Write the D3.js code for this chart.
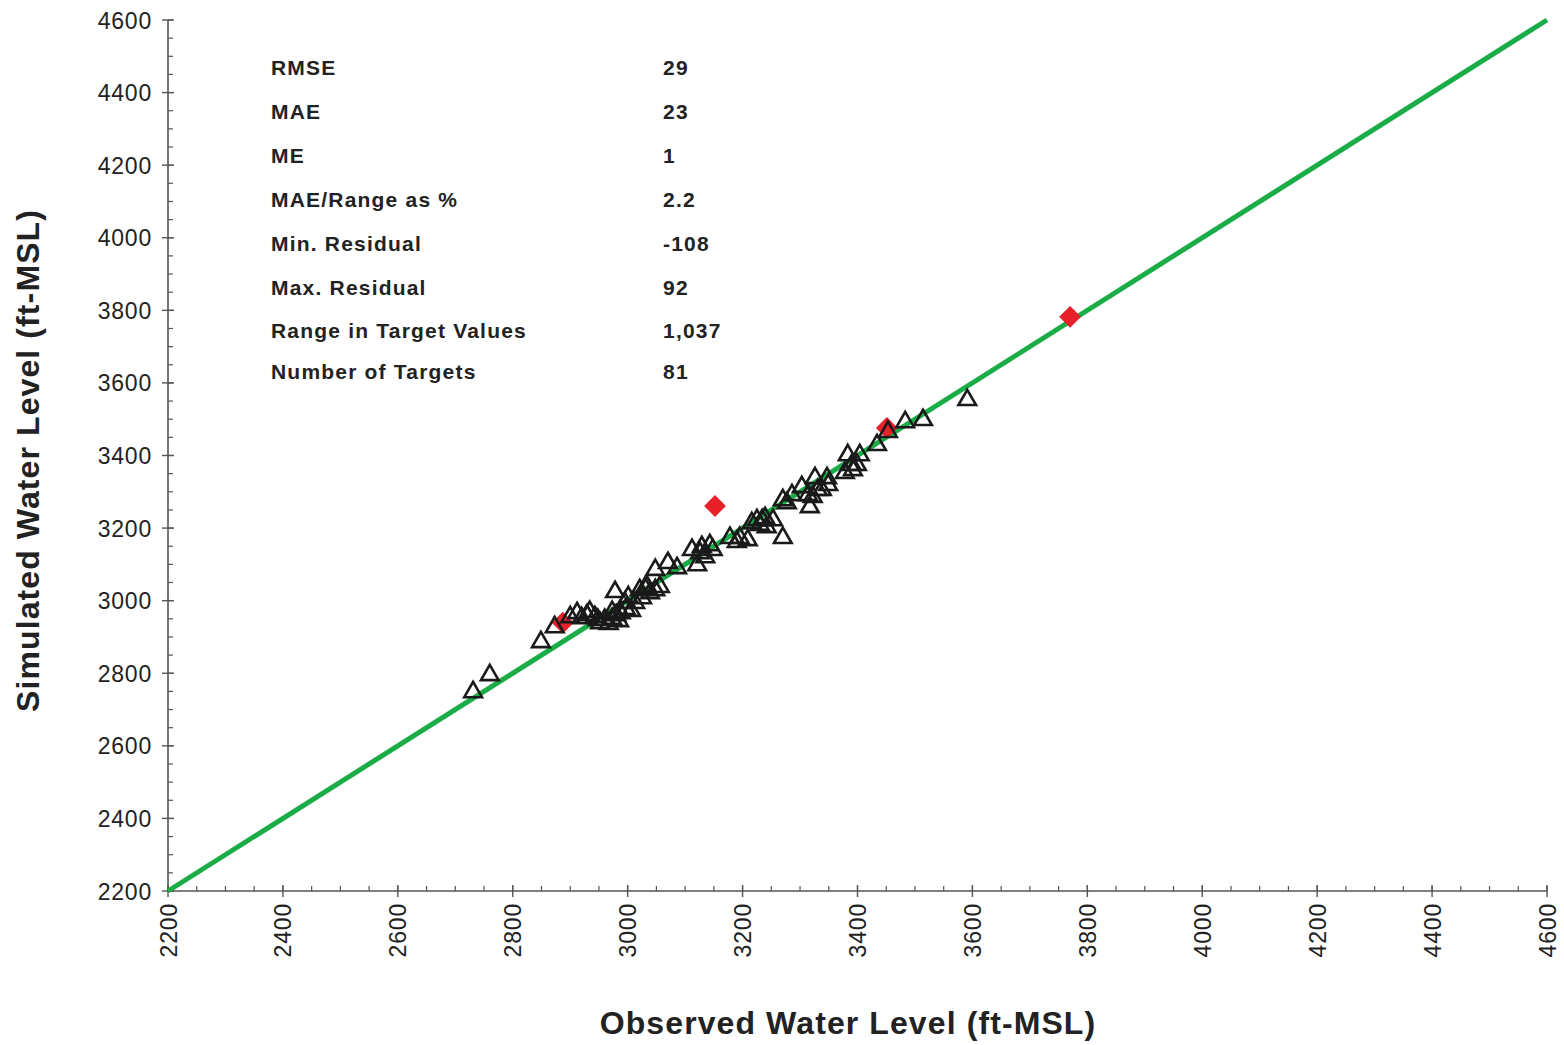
<!DOCTYPE html>
<html>
<head>
<meta charset="utf-8">
<script src="https://cdn.jsdelivr.net/npm/d3@7"></script>
<style>
  body { margin: 0; background: #fff; }
  svg { display: block; font-family: "Liberation Sans", Arial, sans-serif; }
</style>
</head>
<body>
<svg id="chart" width="1564" height="1045"></svg>
<script>
// Observed vs simulated water levels (ft-MSL), triangles = calibration targets
let observed = [2731, 2760, 2849, 2873, 2912, 2920, 2934, 2943, 2952, 2960, 2967, 2973, 2980, 2978,
    2988, 2997, 3001, 3006, 3013, 3021, 3030, 3034, 3039, 3048, 3056, 3048, 3070, 3086, 3112, 3121,
    3129, 3135, 3143, 3148, 3178, 3190, 3195, 3209, 3216, 3225, 3230, 3239, 3242, 3253, 3270, 3270,
    3277, 3286, 3303, 3317, 3322, 3326, 3338, 3349, 3347, 3378, 3383, 3392, 3399, 3404, 3434, 3453,
    3483, 3514, 3591, 2948, 2985, 2995, 3025, 2929, 3126, 3234, 3314, 3331, 3390, 2973, 2900];
let simulated = [2748, 2795, 2886, 2927, 2966, 2952, 2969, 2955, 2938, 2947, 2936, 2950, 2960, 3024,
    2966, 2977, 3010, 2972, 2994, 3029, 3035, 3038, 3021, 3029, 3038, 3085, 3104, 3090, 3140, 3098,
    3148, 3120, 3153, 3140, 3173, 3162, 3173, 3167, 3214, 3222, 3209, 3228, 3203, 3222, 3173, 3277,
    3269, 3291, 3313, 3258, 3286, 3338, 3305, 3319, 3338, 3352, 3401, 3360, 3374, 3401, 3429, 3465,
    3492, 3498, 3553, 2947, 2944, 2994, 3007, 2960, 3131, 3222, 3291, 3305, 3374, 2969, 2955];

// Highlighted targets (red diamonds)
let flagObserved = [2887, 3152, 3451, 3770];
let flagSimulated = [2939, 3261, 3476, 3782];

// Calibration statistics
let statLabels = ["RMSE", "MAE", "ME", "MAE/Range as %", "Min. Residual", "Max. Residual",
    "Range in Target Values", "Number of Targets"];
let statValues = ["29", "23", "1", "2.2", "-108", "92", "1,037", "81"];

let axisDomain = [2200, 4600];
let majorTicks = d3.range(2200, 4601, 200);
let minorTicks = d3.range(2200, 4601, 50);

let svg = d3.select("#chart");

let margin = { top: 20, right: 17, bottom: 154, left: 168 };
let width = 1564 - margin.left - margin.right;
let height = 1045 - margin.top - margin.bottom;

let x = d3.scaleLinear().domain(axisDomain).range([0, width]);
let y = d3.scaleLinear().domain(axisDomain).range([height, 0]);

let g = svg.append("g").attr("transform", "translate(" + margin.left + "," + margin.top + ")");

let axisColor = "#555";

// Minor ticks (inside)
g.append("g").selectAll("line").data(minorTicks).join("line")
    .attr("x1", d => x(d)).attr("x2", d => x(d))
    .attr("y1", height).attr("y2", height - 5)
    .attr("stroke", axisColor).attr("stroke-width", 1.2);
g.append("g").selectAll("line").data(minorTicks).join("line")
    .attr("y1", d => y(d)).attr("y2", d => y(d))
    .attr("x1", 0).attr("x2", 5)
    .attr("stroke", axisColor).attr("stroke-width", 1.2);

// Major ticks (crossing)
g.append("g").selectAll("line").data(majorTicks).join("line")
    .attr("x1", d => x(d)).attr("x2", d => x(d))
    .attr("y1", height - 6).attr("y2", height + 6)
    .attr("stroke", axisColor).attr("stroke-width", 1.4);
g.append("g").selectAll("line").data(majorTicks).join("line")
    .attr("y1", d => y(d)).attr("y2", d => y(d))
    .attr("x1", -6).attr("x2", 6)
    .attr("stroke", axisColor).attr("stroke-width", 1.4);

// Axis lines
g.append("line").attr("x1", 0).attr("x2", width).attr("y1", height).attr("y2", height)
    .attr("stroke", axisColor).attr("stroke-width", 1.6);
g.append("line").attr("x1", 0).attr("x2", 0).attr("y1", 0).attr("y2", height)
    .attr("stroke", axisColor).attr("stroke-width", 1.6);

// Tick labels
g.append("g").selectAll("text").data(majorTicks).join("text")
    .attr("transform", d => "translate(" + (x(d) + 8.5) + "," + (height + 12) + ") rotate(-90)")
    .attr("text-anchor", "end")
    .attr("font-size", 23)
    .attr("letter-spacing", 0.8)
    .attr("fill", "#222")
    .text(d => d);
g.append("g").selectAll("text").data(majorTicks).join("text")
    .attr("x", -16).attr("y", d => y(d) + 8.5)
    .attr("text-anchor", "end")
    .attr("font-size", 23)
    .attr("letter-spacing", 0.8)
    .attr("fill", "#222")
    .text(d => d);

// 1:1 line
g.append("line")
    .attr("x1", x(axisDomain[0])).attr("y1", y(axisDomain[0]))
    .attr("x2", x(axisDomain[1])).attr("y2", y(axisDomain[1]))
    .attr("stroke", "#1aad47").attr("stroke-width", 5);

// Red diamonds
g.append("g").selectAll("path").data(flagObserved).join("path")
    .attr("d", d3.symbol(d3.symbolSquare, 240)())
    .attr("transform", (d, i) => "translate(" + x(d) + "," + y(flagSimulated[i]) + ") rotate(45)")
    .attr("fill", "#e8202a");

// Triangles
g.append("g").selectAll("path").data(observed).join("path")
    .attr("d", d3.symbol(d3.symbolTriangle, 135)())
    .attr("transform", (d, i) => "translate(" + x(d) + "," + y(simulated[i]) + ")")
    .attr("fill", "none")
    .attr("stroke", "#1a1a1a")
    .attr("stroke-width", 2.6);

// Statistics table
let stats = svg.append("g").attr("font-weight", "bold").attr("font-size", 21).attr("fill", "#222");
let rowY = [75, 119, 163, 207, 251, 295, 338, 379];
stats.selectAll("text.lbl").data(statLabels).join("text")
    .attr("class", "lbl")
    .attr("x", 271).attr("y", (d, i) => rowY[i])
    .attr("letter-spacing", 1.2)
    .text(d => d);
stats.selectAll("text.val").data(statValues).join("text")
    .attr("class", "val")
    .attr("x", 663).attr("y", (d, i) => rowY[i])
    .attr("letter-spacing", 1.2)
    .text(d => d);

// Axis titles
svg.append("text")
    .attr("x", 848).attr("y", 1034)
    .attr("text-anchor", "middle")
    .attr("font-size", 32).attr("font-weight", "bold").attr("fill", "#222")
    .attr("letter-spacing", 1.1)
    .text("Observed Water Level (ft-MSL)");
svg.append("text")
    .attr("transform", "translate(39," + (margin.top + height / 2 + 5) + ") rotate(-90)")
    .attr("text-anchor", "middle")
    .attr("font-size", 32).attr("font-weight", "bold").attr("fill", "#222")
    .attr("letter-spacing", 1.1)
    .text("Simulated Water Level (ft-MSL)");
</script>
</body>
</html>
